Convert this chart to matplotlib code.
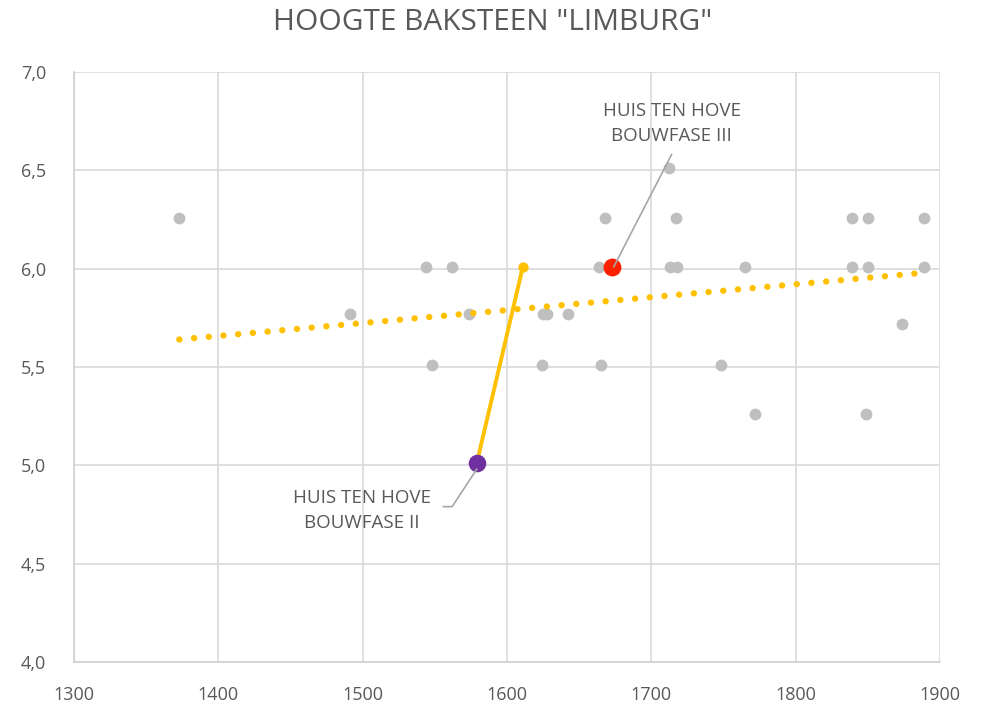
import matplotlib
matplotlib.use('Agg')
import matplotlib.pyplot as plt

plt.rcParams['font.family'] = ['Open Sans', 'DejaVu Sans']

# grijze meetpunten (jaar, hoogte in cm)
years = [1373, 1668, 1717, 1839, 1850, 1889, 1712,
         1544, 1562, 1664, 1713, 1718, 1765, 1839, 1850, 1889,
         1491, 1574, 1625, 1628, 1642,
         1548, 1624, 1665, 1748,
         1874, 1772, 1849]
heights = [6.26, 6.26, 6.26, 6.26, 6.26, 6.26, 6.51,
           6.01, 6.01, 6.01, 6.01, 6.01, 6.01, 6.01, 6.01, 6.01,
           5.77, 5.77, 5.77, 5.77, 5.77,
           5.51, 5.51, 5.51, 5.51,
           5.72, 5.26, 5.26]

# trendlijn (eindpunten)
trend_x = [1373, 1890]
trend_y = [5.64, 5.98]

# Huis ten Hove bouwfasen
phase_x = [1579, 1611]
phase_y = [5.01, 6.01]
phase3_x, phase3_y = 1673, 6.01

fig = plt.figure(figsize=(9.85, 7.07), dpi=100)
ax = fig.add_axes([74 / 985, 45 / 707, 866 / 985, 590 / 707])

gray = '#BFBFBF'
orange = '#FFC000'
text_col = '#595959'
lead_col = '#A6A6A6'

ax.scatter(years, heights, s=72, color=gray, zorder=3, linewidths=0)
ax.plot(trend_x, trend_y, color=orange, lw=4.6, ls=(0, (0.01, 2.3)),
        dash_capstyle='round', zorder=4)
ax.plot(phase_x, phase_y, color=orange, lw=2.8, zorder=5)
ax.scatter([phase_x[1]], [phase_y[1]], s=55, color=orange, zorder=6, linewidths=0)
ax.scatter([phase_x[0]], [phase_y[0]], s=160, color='#7030A0', zorder=6, linewidths=0)
ax.scatter([phase3_x], [phase3_y], s=165, color='#FF2000', zorder=6, linewidths=0)

# labels met verbindingslijnen
ax.text(1714, 6.74, 'HUIS TEN HOVE\nBOUWFASE III', ha='center', va='center',
        fontsize=13.5, color=text_col, linespacing=1.5)
ax.plot([1714, phase3_x + 1], [6.58, phase3_y], color=lead_col, lw=1.2, zorder=7)
ax.text(1499.5, 4.772, 'HUIS TEN HOVE\nBOUWFASE II', ha='center', va='center',
        fontsize=13.5, color=text_col, linespacing=1.5)
ax.plot([1556, 1562, 1579], [4.79, 4.79, 4.98], color=lead_col, lw=1.2, zorder=7)

ax.set_xlim(1300, 1900)
ax.set_ylim(4.0, 7.0)
ax.set_xticks(range(1300, 1901, 100))
ax.set_yticks([4.0, 4.5, 5.0, 5.5, 6.0, 6.5, 7.0])
ax.set_yticklabels([f'{v:.1f}'.replace('.', ',') for v in ax.get_yticks()])
ax.grid(True, color='#D9D9D9', lw=1.2, zorder=0)
ax.set_axisbelow(True)
for side in ['top', 'right']:
    ax.spines[side].set_visible(False)
for side in ['left', 'bottom']:
    ax.spines[side].set_color('#D0D0D0')
    ax.spines[side].set_linewidth(1.2)
ax.tick_params(axis='y', colors=text_col, labelsize=13, length=0, pad=20)
ax.tick_params(axis='x', colors=text_col, labelsize=13, length=0, pad=17)

fig.text(493 / 985, 1 - 22 / 707, 'HOOGTE BAKSTEEN "LIMBURG"', ha='center',
         va='center', fontsize=21.5, color=text_col)

fig.savefig('out.png', dpi=100)
